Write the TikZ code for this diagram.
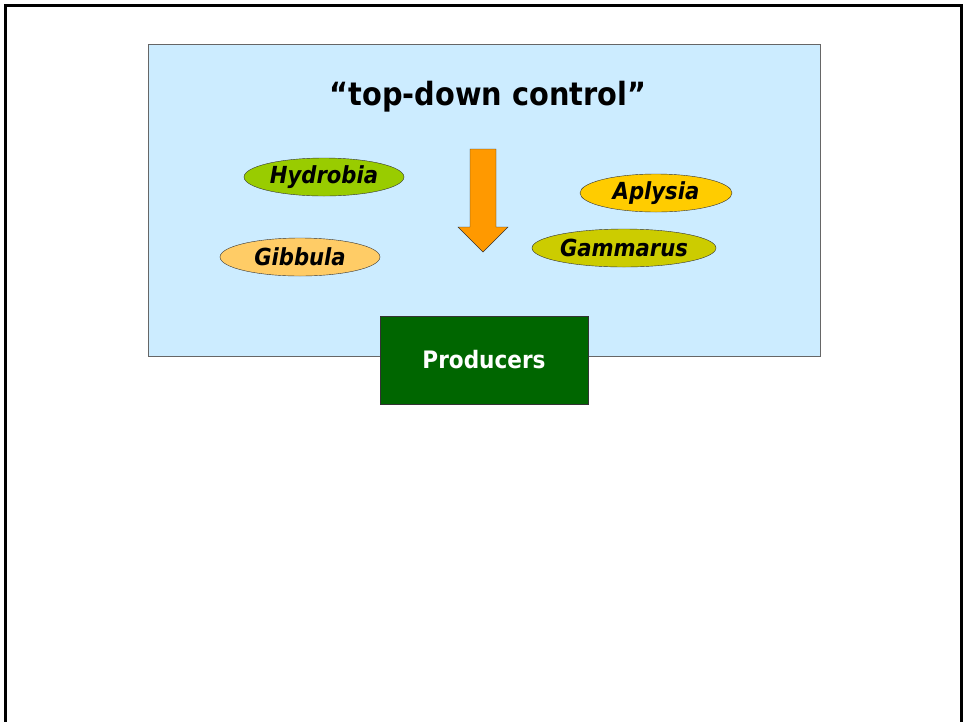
\documentclass[tikz,border=0pt]{standalone}
\usepackage{fontspec}
\setmainfont{DejaVu Sans Condensed}
\usetikzlibrary{shapes.geometric, positioning, calc}
\definecolor{paleblue}{HTML}{CCECFF}
\definecolor{prodgreen}{HTML}{006600}
\definecolor{limegreen}{HTML}{99CC00}
\definecolor{goldyellow}{HTML}{FFCC00}
\definecolor{paleorange}{HTML}{FFCC66}
\definecolor{olivegreen}{HTML}{CCCC00}
\definecolor{arroworange}{HTML}{FF9900}
\tikzset{
    panel/.style={
        rectangle,
        draw=black!60,
        fill=paleblue,
        minimum width=672pt,
        minimum height=312pt,
        inner sep=0pt
    },
    species/.style={
        ellipse,
        draw=black!80,
        thin,
        minimum width=160pt,
        minimum height=38pt,
        inner sep=0pt,
        font=\fontsize{23.5}{26}\selectfont\bfseries\itshape
    },
    prodbox/.style={
        rectangle,
        draw=black!80,
        fill=prodgreen,
        text=white,
        minimum width=208pt,
        minimum height=88pt,
        inner sep=0pt,
        font=\fontsize{24}{28}\selectfont\bfseries
    },
    heading/.style={
        font=\fontsize{32}{38}\selectfont\bfseries
    },
    flowarrow/.style={
        draw=black!80,
        fill=arroworange,
        thin
    }
}

\begin{document}
\begin{tikzpicture}[x=1pt, y=-1pt]
    \useasboundingbox (0,0) rectangle (963,721);

    % Frame
    \draw[line width=3pt] (5,730) -- (5,5) -- (961,5) -- (961,730);

    % Panel
    \node[panel] (panel) at (484,200) {};
    \node[heading] (title) at (488,97) {“top-down control”};

    % Consumers
    \node[species, fill=limegreen] (hydrobia) at (324,177) {Hydrobia};
    \node[species, fill=paleorange] (gibbula) at (300,257) {Gibbula};
    \node[species, fill=goldyellow, minimum width=152pt] (aplysia) at (656,193) {Aplysia};
    \node[species, fill=olivegreen, minimum width=184pt] (gammarus) at (624,248) {Gammarus};

    % Arrow
    \coordinate (tail) at (483,149);
    \coordinate (tip) at (483,252);
    \filldraw[flowarrow] ($(tail)+(-13,0)$) -- ($(tail)+(13,0)$) -- ($(tip)+(13,-25)$)
        -- ($(tip)+(25,-25)$) -- (tip) -- ($(tip)+(-25,-25)$) -- ($(tip)+(-13,-25)$) -- cycle;

    % Producers
    \node[prodbox] (producers) at (484,360) {Producers};

\end{tikzpicture}
\end{document}
